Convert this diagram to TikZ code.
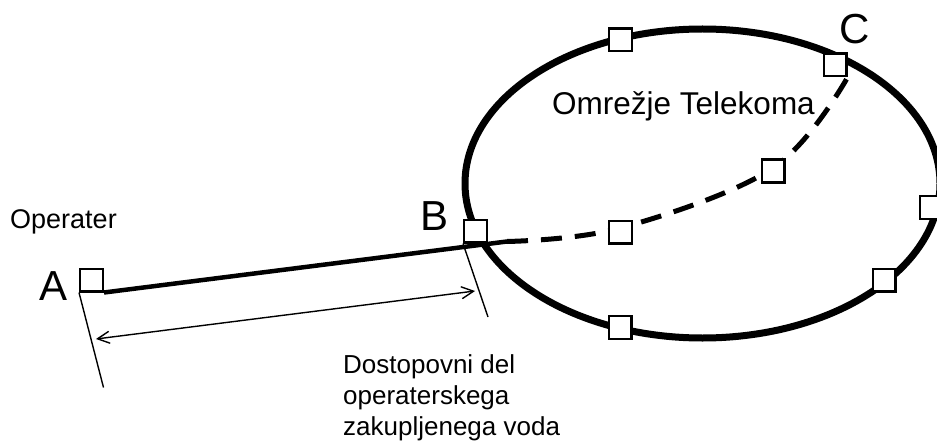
\documentclass[tikz,border=0pt]{standalone}
\usepackage{fontspec}
\setmainfont{Liberation Sans}
\usetikzlibrary{arrows.meta,backgrounds}
\begin{document}
\begin{tikzpicture}[x=1pt,y=-1pt,
  sq/.style={draw, line width=2.2pt, fill=white, minimum size=22.8pt, inner sep=0pt},
  lbl/.style={font=\fontsize{42}{42}\selectfont, inner sep=0pt},
  txt/.style={font=\fontsize{26}{31}\selectfont, inner sep=0pt, align=left},
  thinln/.style={line width=1.4pt},
  barb/.tip={Straight Barb[length=12pt,width=12pt]},
]
\useasboundingbox (0,0) rectangle (937,441);
% squares
\node[sq] (Asq) at (91.5,280) {};
\node[sq] (Bsq) at (475.5,231) {};
\node[sq] (Tsq) at (620.5,40) {};
\node[sq] (Csq) at (835,65) {};
\node[sq] (M2) at (773,171) {};
\node[sq] (M1) at (620.5,232) {};
\node[sq] (Rsq) at (931.5,207.5) {};
\node[sq] (LRsq) at (884,280) {};
\node[sq] (Bot) at (620,327.5) {};
\coordinate (jn) at (507,241.5);
\coordinate (ea) at (103.5,387.5);
\coordinate (eb) at (488,317);
\coordinate (d1) at (96,339);
\coordinate (d2) at (475,291);
\begin{scope}[on background layer]
\draw[line width=7pt] (702.5,183.5) ellipse [x radius=237.5pt, y radius=154.5pt];
\draw[line width=4.5pt] (Asq.south east) -- (jn);
\draw[line width=5pt, dash pattern=on 21pt off 13pt]
  plot[smooth, tension=0.6] coordinates {(jn) (620.5,228) (773,168) (Csq.south east)};
\end{scope}
\draw[thinln] (Asq.south west) -- (ea);
\draw[thinln] (Bsq.south west) -- (eb);
\draw[thinln, barb-barb] (d1) -- (d2);
% labels
\node[lbl] (la) at (53.5,286) {A};
\node[lbl] (lb) at (435,216) {B};
\node[lbl] (lc) at (855,29) {C};
\node[txt, font=\fontsize{27}{31}\selectfont, anchor=base west] (lop) at (10,228) {Operater};
\node[txt, font=\fontsize{31.5}{31}\selectfont, anchor=base west] (lnet) at (552,115) {Omrežje Telekoma};
\node[txt, anchor=base west] (ldos) at (343,435) {Dostopovni del\\operaterskega\\zakupljenega voda};
\end{tikzpicture}
\end{document}
